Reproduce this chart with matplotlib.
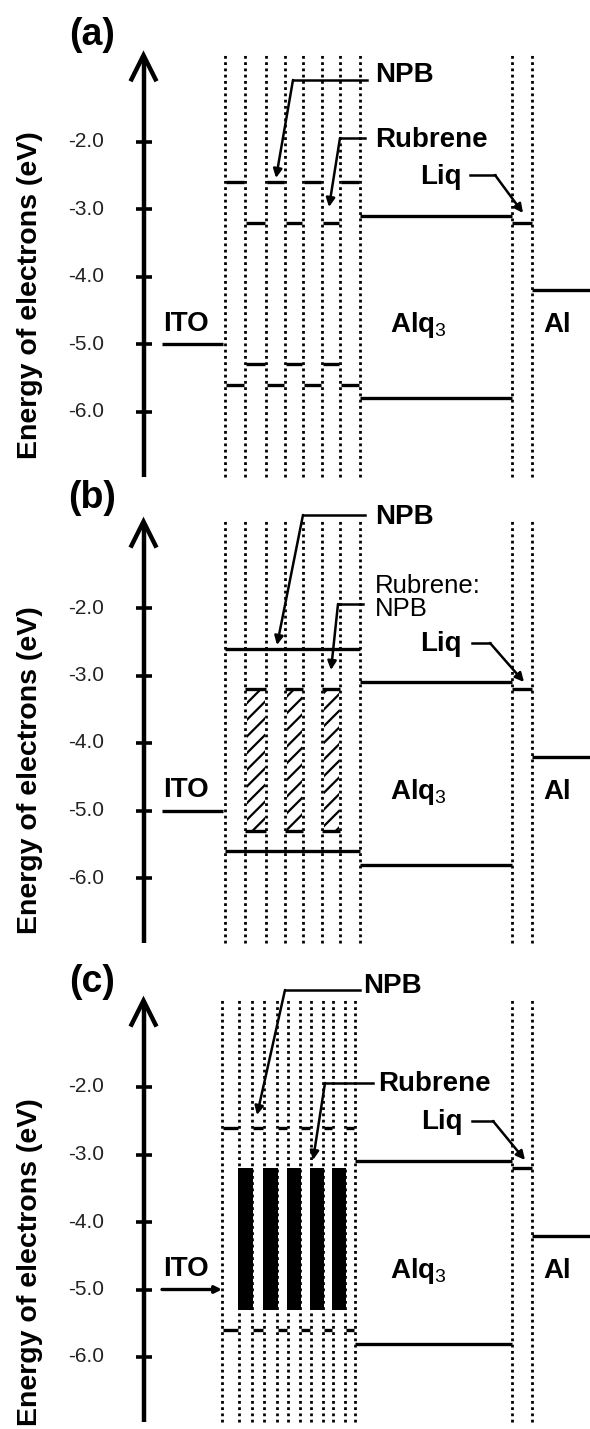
import matplotlib
matplotlib.use('Agg')
import matplotlib.pyplot as plt
from matplotlib.patches import Rectangle

plt.rcParams['font.family'] = ['Liberation Sans', 'DejaVu Sans']
plt.rcParams['mathtext.fontset'] = 'custom'
plt.rcParams['mathtext.rm'] = 'Liberation Sans'
plt.rcParams['mathtext.bf'] = 'Liberation Sans:bold'
plt.rcParams['hatch.linewidth'] = 1.6

# ---------------- data (energies in eV) ----------------
panel_names = ['(a)', '(b)', '(c)']
tick_values = [-2.0, -3.0, -4.0, -5.0, -6.0]
tick_labels = ['-2.0', '-3.0', '-4.0', '-5.0', '-6.0']
ito_level = -5.0
npb_levels = [-2.6, -5.6]        # LUMO, HOMO
rubrene_levels = [-3.2, -5.3]    # LUMO, HOMO
alq3_levels = [-3.1, -5.8]       # LUMO, HOMO
liq_level = -3.2
al_level = -4.2
y_label = 'Energy of electrons (eV)'

# ---------------- layout (pixels) ----------------
W, H = 590, 1429
PX_PER_EV = 67.5
Y2_PX = [141.7, 608, 1087]          # pixel row of -2.0 eV in each panel
YLIM = (-7.05, -0.55)
AXIS_X = 143.5
ITO_X = (162, 223)
COLS_AB = [225, 245, 266, 285, 303, 322, 340, 360]
COLS_C = [222, 239, 252, 264, 277, 288, 300, 311, 323, 333, 345, 355]
LIQ_X = (512, 532)
AL_X = (532, 590)
COL_RANGE = (-6.97, -0.68)
LW = 2.4

fig = plt.figure(figsize=(W / 100, H / 100), dpi=100)
fig.patch.set_facecolor('white')


def ev(i, ypx):
    return -2.0 - (ypx - Y2_PX[i]) / PX_PER_EV


axes = []
for i in range(3):
    top_px = Y2_PX[i] - (YLIM[1] - (-2.0)) * PX_PER_EV
    bot_px = Y2_PX[i] + (-2.0 - YLIM[0]) * PX_PER_EV
    ax = fig.add_axes([0, 1 - bot_px / H, 1, (bot_px - top_px) / H])
    ax.set_xlim(0, W)
    ax.set_ylim(*YLIM)
    ax.set_axis_off()
    axes.append(ax)


def hline(ax, x0, x1, y, lw=LW):
    ax.plot([x0, x1], [y, y], color='k', lw=lw, solid_capstyle='butt')


def leader(ax, i, text_x, text_y, text, ha, hx0, hx1, hy, tip_x, tip_y,
           bold=True, size=20):
    if text is not None:
        ax.text(text_x, ev(i, text_y), text, ha=ha, va='center', fontsize=size,
                fontweight='bold' if bold else 'normal')
    ax.plot([hx0, hx1], [ev(i, hy), ev(i, hy)], color='k', lw=1.8)
    ax.annotate('', xy=(tip_x, ev(i, tip_y)), xytext=(hx1, ev(i, hy)),
                arrowprops=dict(arrowstyle='-|>', lw=1.8, color='k',
                                mutation_scale=13, shrinkA=0, shrinkB=0))


for i, ax in enumerate(axes):
    # energy axis with open arrow head
    top = -0.72
    ax.plot([AXIS_X, AXIS_X], [-6.97, top - 0.05], color='k', lw=3.2,
            solid_capstyle='butt')
    arm = 24 / PX_PER_EV
    ax.plot([AXIS_X - 12, AXIS_X, AXIS_X + 12], [top - arm, top, top - arm],
            color='k', lw=3.2, solid_joinstyle='miter')
    for v, lab in zip(tick_values, tick_labels):
        ax.plot([AXIS_X - 8, AXIS_X + 8], [v, v], color='k', lw=2.6,
                solid_capstyle='butt')
        ax.text(104, v, lab, ha='right', va='center', fontsize=15,
                color='#222222')
    ax.text(30, [-4.28, -4.4, -4.6][i], y_label, rotation=90, ha='center',
            va='center', fontsize=20.5, fontweight='bold')
    fig.text(92 / W, 1 - [35, 498, 982][i] / H, panel_names[i], ha='center',
             va='center', fontsize=27, fontweight='bold')

    cols = COLS_C if i == 2 else COLS_AB
    # dotted layer boundaries
    for x in list(cols) + list(LIQ_X):
        ax.plot([x, x], COL_RANGE, color='k', lw=2.0,
                linestyle=(0, (1, 1.25)), dash_capstyle='butt')

    # ITO
    if i == 2:
        ax.annotate('', xy=(cols[0], ito_level), xytext=(ITO_X[0], ito_level),
                    arrowprops=dict(arrowstyle='-|>', lw=LW, color='k',
                                    mutation_scale=10, shrinkA=0, shrinkB=0))
    else:
        hline(ax, ITO_X[0], ITO_X[1], ito_level)
    ax.text(186, -4.7, 'ITO', ha='center', va='center', fontsize=20,
            fontweight='bold')

    # emitting multilayer
    layers = list(zip(cols[:-1], cols[1:]))
    if i == 0:
        for k, (x0, x1) in enumerate(layers):
            lv = npb_levels if k % 2 == 0 else rubrene_levels
            for e in lv:
                hline(ax, x0 + 1, x1 - 1, e)
    elif i == 1:
        for e in npb_levels:
            hline(ax, cols[0], cols[-1], e)
        for k, (x0, x1) in enumerate(layers):
            if k % 2 == 1:
                ax.add_patch(Rectangle((x0 + 1.5, rubrene_levels[1]), x1 - x0 - 3,
                                       rubrene_levels[0] - rubrene_levels[1],
                                       facecolor='none', edgecolor='k',
                                       hatch='//', lw=0))
                for e in rubrene_levels:
                    hline(ax, x0, x1, e)
    else:
        for k, (x0, x1) in enumerate(layers):
            if k % 2 == 0:
                for e in npb_levels:
                    hline(ax, x0 + 1, x1 - 1, e)
            else:
                ax.add_patch(Rectangle((x0 - 1, rubrene_levels[1]), x1 - x0 + 2,
                                       rubrene_levels[0] - rubrene_levels[1],
                                       facecolor='k', edgecolor='k', lw=0))

    # Alq3, Liq, Al
    for e in alq3_levels:
        hline(ax, cols[-1], LIQ_X[0], e)
    hline(ax, LIQ_X[0], LIQ_X[1], liq_level)
    hline(ax, AL_X[0], AL_X[1], al_level)
    ax.text(418, -4.72, r'Alq$_3$', ha='center', va='center', fontsize=20,
            fontweight='bold')
    ax.text(557, -4.72, 'Al', ha='center', va='center', fontsize=20,
            fontweight='bold')

# annotations
a, b, c = axes
leader(a, 0, 375, 75, 'NPB', 'left', 367, 293, 80, 276, 178)
leader(a, 0, 375, 140, 'Rubrene', 'left', 365, 340, 138, 329, 207)
leader(a, 0, 462, 177, 'Liq', 'right', 470, 495, 175, 523, 213)

leader(b, 1, 375, 517, 'NPB', 'left', 365, 303, 515, 277, 645)
b.text(375, ev(1, 586), 'Rubrene:', ha='left', va='center', fontsize=18.5)
b.text(375, ev(1, 609), 'NPB', ha='left', va='center', fontsize=18.5)
leader(b, 1, 0, 0, None, 'left', 363, 338, 604, 331, 670)
leader(b, 1, 462, 644, 'Liq', 'right', 472, 490, 643, 524, 682)

leader(c, 2, 363, 986, 'NPB', 'left', 360, 285, 990, 257, 1115)
leader(c, 2, 378, 1084, 'Rubrene', 'left', 373, 325, 1083, 313, 1160)
leader(c, 2, 463, 1122, 'Liq', 'right', 472, 493, 1121, 525, 1160)

fig.savefig('out.png', dpi=100, facecolor='white')
